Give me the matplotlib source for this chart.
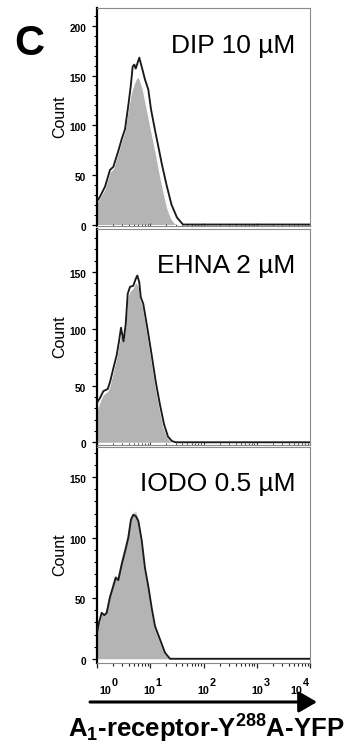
import numpy as np
import matplotlib
matplotlib.use("Agg")
import matplotlib.pyplot as plt
from matplotlib.ticker import MultipleLocator, FixedLocator, LogLocator, NullFormatter
from matplotlib.transforms import ScaledTranslation

plt.rcParams['font.family'] = ['Liberation Sans', 'DejaVu Sans']
plt.rcParams['mathtext.fontset'] = 'custom'
plt.rcParams['mathtext.rm'] = 'Liberation Sans'
plt.rcParams['mathtext.bf'] = 'Liberation Sans:bold'
plt.rcParams['mathtext.it'] = 'Liberation Sans:italic'

# ---------------- data ----------------
panel_letter = "C"
panel_titles = ["DIP 10 µM", "EHNA 2 µM", "IODO 0.5 µM"]
y_label = "Count"
x_label = r"A$_\mathbf{1}$-receptor-Y$^\mathbf{288}$A-YFP"
x_decades = [0, 1, 2, 3, 4]
x_tick_base = "10"

y_ticks_dip = [0, 50, 100, 150, 200]
y_ticks_ehna = [0, 50, 100, 150]
y_ticks_iodo = [0, 50, 100, 150]

# DIP 10 uM  (x as log10 fluorescence, y = count)
dip_line_log = [0.0, 0.024, 0.056, 0.150, 0.244, 0.306, 0.400, 0.464, 0.526, 0.588, 0.633, 0.670,
                0.700, 0.727, 0.794, 0.839, 0.901, 0.963, 1.014, 1.089, 1.146, 1.221, 1.305,
                1.399, 1.502, 1.615, 4.0]
dip_line_cnt = [24, 25, 28, 38, 55, 58, 74, 86, 96, 120, 139, 159,
                161, 157, 168, 159, 146, 136, 116, 95, 80, 60, 40,
                20, 7, 0, 0]
dip_fill_log = [0.0, 0.05, 0.15, 0.244, 0.306, 0.40, 0.464, 0.526, 0.588, 0.64, 0.70, 0.74,
                0.776, 0.81, 0.87, 0.93, 0.99, 1.05, 1.12, 1.19, 1.26, 1.33, 1.40, 1.47, 1.52, 4.0]
dip_fill_cnt = [22, 26, 36, 53, 56, 72, 84, 94, 116, 132, 142, 147,
                149, 146, 136, 120, 104, 88, 70, 50, 32, 16, 6, 1, 0, 0]

# EHNA 2 uM
ehna_line_log = [0.0, 0.013, 0.056, 0.118, 0.201, 0.244, 0.306, 0.370, 0.413, 0.451, 0.498, 0.539,
                 0.577, 0.620, 0.682, 0.727, 0.757, 0.794, 0.821, 0.869, 0.948, 1.023, 1.108,
                 1.183, 1.258, 1.333, 1.408, 1.484, 4.0]
ehna_line_cnt = [34, 36, 39, 45, 47, 53, 65, 77, 89, 101, 89, 104,
                 131, 137, 138, 144, 147, 141, 128, 122, 100, 78, 52,
                 33, 16, 5, 1, 0, 0]
ehna_fill_log = [0.0, 0.056, 0.118, 0.201, 0.244, 0.306, 0.370, 0.413, 0.451, 0.498, 0.539, 0.577,
                 0.620, 0.682, 0.727, 0.757, 0.794, 0.821, 0.869, 0.948, 1.023, 1.108, 1.183,
                 1.258, 1.333, 1.408, 4.0]
ehna_fill_cnt = [28, 36, 42, 45, 50, 62, 75, 86, 96, 90, 102, 128,
                 133, 136, 141, 140, 137, 126, 120, 97, 75, 49, 30,
                 13, 4, 0, 0]

# IODO 0.5 uM
iodo_line_log = [0.0, 0.038, 0.088, 0.137, 0.182, 0.244, 0.306, 0.351, 0.400, 0.464, 0.539, 0.588,
                 0.638, 0.682, 0.727, 0.776, 0.839, 0.901, 0.963, 1.027, 1.089, 1.183, 1.277,
                 1.371, 4.0]
iodo_line_cnt = [21, 30, 38, 36, 38, 51, 60, 67, 65, 78, 91, 100,
                 115, 119, 118, 114, 98, 75, 60, 42, 27, 16, 5,
                 0, 0]
iodo_fill_log = [0.0, 0.038, 0.088, 0.137, 0.182, 0.244, 0.306, 0.351, 0.400, 0.464, 0.539, 0.588,
                 0.638, 0.682, 0.727, 0.776, 0.839, 0.901, 0.963, 1.027, 1.089, 1.183, 1.277,
                 1.371, 4.0]
iodo_fill_cnt = [20, 28, 37, 36, 39, 52, 62, 68, 67, 80, 93, 102,
                 116, 119, 121, 113, 96, 73, 58, 40, 25, 14, 4,
                 0, 0]

# ---------------- layout ----------------
W, H = 357, 748
fig = plt.figure(figsize=(W / 100, H / 100), dpi=100)


def px_axes(l, t, r, b):
    return fig.add_axes([l / W, 1 - b / H, (r - l) / W, (b - t) / H])


ax1 = px_axes(97, 8, 310, 226)
ax2 = px_axes(97, 229, 310, 445)
ax3 = px_axes(97, 447, 310, 663)
axes = [ax1, ax2, ax3]
ylims = [(-1.5, 218), (-2.4, 188), (-3.5, 175)]
yticks = [y_ticks_dip, y_ticks_ehna, y_ticks_iodo]
lines = [(dip_line_log, dip_line_cnt), (ehna_line_log, ehna_line_cnt), (iodo_line_log, iodo_line_cnt)]
fills = [(dip_fill_log, dip_fill_cnt), (ehna_fill_log, ehna_fill_cnt), (iodo_fill_log, iodo_fill_cnt)]
edge_cols = ['white', 'white', '#d0d0d0']

for i, ax in enumerate(axes):
    ax.set_xscale('log')
    ax.set_xlim(1, 1e4)
    ax.set_ylim(*ylims[i])
    fx = 10.0 ** np.array(fills[i][0])
    fy = np.array(fills[i][1])
    ax.fill_between(fx, 0, fy, color='#b4b4b4', lw=0, zorder=1)
    ax.plot(fx, fy, color=edge_cols[i], lw=1.0, zorder=2)
    lx = 10.0 ** np.array(lines[i][0])
    ly = np.array(lines[i][1])
    ax.plot(lx, ly, color='#1a1a1a', lw=1.35, zorder=3, solid_joinstyle='round')

    for side in ['top', 'right', 'bottom']:
        ax.spines[side].set_color('#8a8a8a')
        ax.spines[side].set_linewidth(0.8)
    ax.spines['left'].set_color('black')
    ax.spines['left'].set_linewidth(1.6)

    ax.yaxis.set_major_locator(FixedLocator(yticks[i]))
    ax.yaxis.set_minor_locator(MultipleLocator(10))
    ax.tick_params(axis='y', which='major', direction='out', length=3.6, width=0.9,
                   pad=4.3, labelsize=7.3)
    ax.tick_params(axis='y', which='minor', direction='out', length=2.0, width=0.8)
    for lab in ax.get_yticklabels():
        lab.set_fontweight('bold')
        lab.set_transform(lab.get_transform() + ScaledTranslation(0, -2 / 100, fig.dpi_scale_trans))

    ax.xaxis.set_major_locator(FixedLocator([10.0 ** d for d in x_decades]))
    ax.xaxis.set_minor_locator(LogLocator(base=10, subs=np.arange(2, 10)))
    ax.xaxis.set_major_formatter(NullFormatter())
    ax.xaxis.set_minor_formatter(NullFormatter())
    if i < 2:
        ax.tick_params(axis='x', which='major', direction='in', length=2.0, width=0.8, color='#444444')
        ax.tick_params(axis='x', which='minor', direction='in', length=1.2, width=0.7, color='#444444')
    else:
        ax.tick_params(axis='x', which='major', direction='out', length=3.6, width=0.9, color='#222222')
        ax.tick_params(axis='x', which='minor', direction='out', length=2.2, width=0.8, color='#222222')

    ax.set_ylabel(y_label, fontsize=11.5)
    ax.yaxis.set_label_coords(-0.141, 0.5)

    ax.text(0.93, 0.794, panel_titles[i], transform=ax.transAxes, ha='right', va='baseline',
            fontsize=19)

# x tick labels "10" with full-size superscript exponent
base_dx = [8.5, -1, 0, 1, -14]
for d, dx in zip(x_decades, base_dx):
    ax3.annotate(x_tick_base, xy=(10.0 ** d, 0), xycoords=('data', 'axes fraction'),
                 xytext=(dx, -31), textcoords='offset pixels', ha='center', va='baseline',
                 fontsize=7.8, fontweight='bold', annotation_clip=False)
    ax3.annotate(str(d), xy=(10.0 ** d, 0), xycoords=('data', 'axes fraction'),
                 xytext=(dx + 6.5, -23), textcoords='offset pixels', ha='left', va='baseline',
                 fontsize=7.8, fontweight='bold', annotation_clip=False)

# arrow under the axis
fig.add_artist(matplotlib.patches.FancyArrowPatch(
    (90 / W, 1 - 702 / H), (317 / W, 1 - 702 / H), transform=fig.transFigure,
    arrowstyle='-|>,head_length=0.55,head_width=0.32', mutation_scale=20,
    lw=2.2, color='black', shrinkA=0, shrinkB=0))

fig.text(206.5 / W, 1 - 738 / H, x_label, ha='center', va='baseline', fontsize=18.5,
         fontweight='bold')
fig.text(14 / W, 1 - 55 / H, panel_letter, ha='left', va='baseline', fontsize=30,
         fontweight='bold')

fig.savefig('out.png', dpi=100)
